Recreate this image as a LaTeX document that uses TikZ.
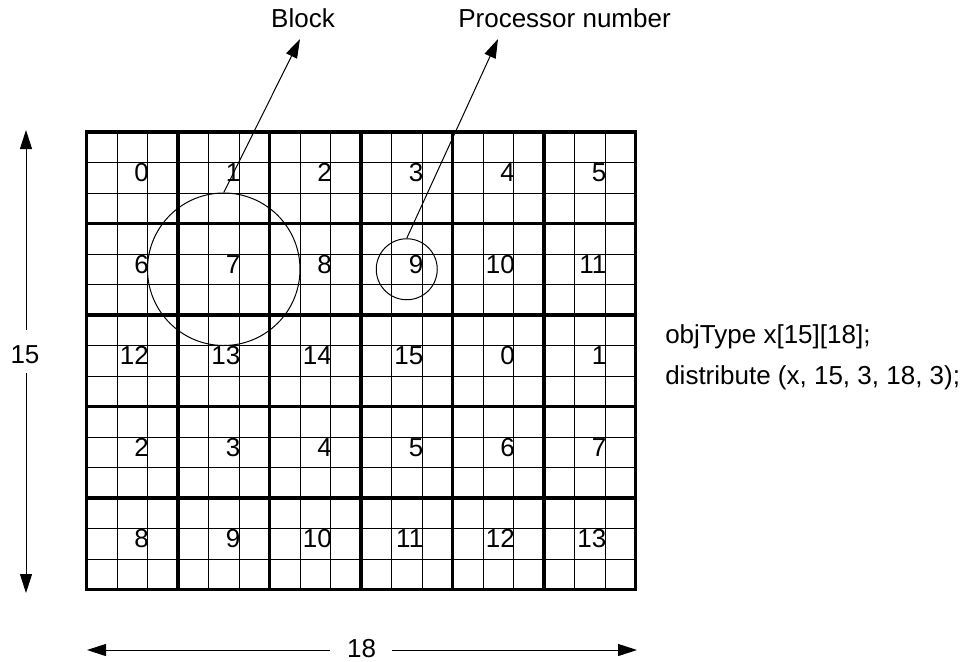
\documentclass[tikz,border=0pt]{standalone}
\usepackage{fontspec}
\setmainfont{Liberation Sans}
\usetikzlibrary{arrows.meta}
\tikzset{
  fineline/.style={line width=0.7pt},
  thickline/.style={line width=2.3pt},
  thinline/.style={line width=0.75pt},
  tipstyle/.style={-{Triangle[length=14.25pt,width=9pt]}},
  numlabel/.style={anchor=base east, inner sep=0pt, font=\fontsize{19.5}{23}\selectfont},
  txt/.style={inner sep=0pt, font=\fontsize{19.5}{23}\selectfont},
}
\begin{document}
\begin{tikzpicture}[x=0.75pt,y=-0.75pt]
\useasboundingbox (0,0) rectangle (974,661);
% fine grid
\foreach \i in {0,...,18}
  \draw[fineline] ({86.5+\i*30.5},132) -- ({86.5+\i*30.5},589.5);
\foreach \j in {0,...,15}
  \draw[fineline] (86.5,{132+\j*30.5}) -- (635.5,{132+\j*30.5});
% thick block lines
\foreach \i in {0,...,6}
  \draw[thickline] ({86.5+\i*91.5},132) -- ({86.5+\i*91.5},589.5);
\foreach \j in {0,...,5}
  \draw[thickline] (85.35,{132+\j*91.5}) -- (636.65,{132+\j*91.5});
% processor numbers
\foreach \r in {0,...,4}
  \foreach \c in {0,...,5} {
    \pgfmathtruncatemacro{\n}{mod(\r*6+\c,16)}
    \node[numlabel] (p\r\c) at ({86.5+(3*\c+2)*30.5+1.5},{132+(3*\r+1.5)*30.5+4}) {\n};
  }
% circles
\node[draw, thinline, circle, inner sep=0pt, minimum size=114.375pt] (blk) at (223.75,269.25) {};
\node[draw, thinline, circle, inner sep=0pt, minimum size=45.75pt] (pn) at (406.75,269.25) {};
% labels
\node[txt, anchor=base] (blocklabel) at (303,27) {Block};
\node[txt, anchor=base east] (proclabel) at (671,27) {Processor number};
\coordinate (blocktip) at (300,39);
\coordinate (proctip) at (498,39);
\draw[thinline, tipstyle] (blk.north) -- (blocktip);
\draw[thinline, tipstyle] (pn.north) -- (proctip);
% code
\node[txt, anchor=base west] (code1) at (665,343) {objType x[15][18];};
\node[txt, anchor=base west] (code2) at (665,384) {distribute (x, 15, 3, 18, 3);};
% dimension 15
\node[txt, anchor=base] (d15) at (25,363) {15};
\coordinate (vtop) at (26,130);
\coordinate (vbot) at (26,593);
\draw[thinline, tipstyle] (26,330) -- (vtop);
\draw[thinline, tipstyle] (26,373) -- (vbot);
% dimension 18
\node[txt, anchor=base] (d18) at (361.5,657) {18};
\coordinate (hleft) at (87,650);
\coordinate (hright) at (637,650);
\draw[thinline, tipstyle] (330,650) -- (hleft);
\draw[thinline, tipstyle] (392,650) -- (hright);
\end{tikzpicture}
\end{document}
